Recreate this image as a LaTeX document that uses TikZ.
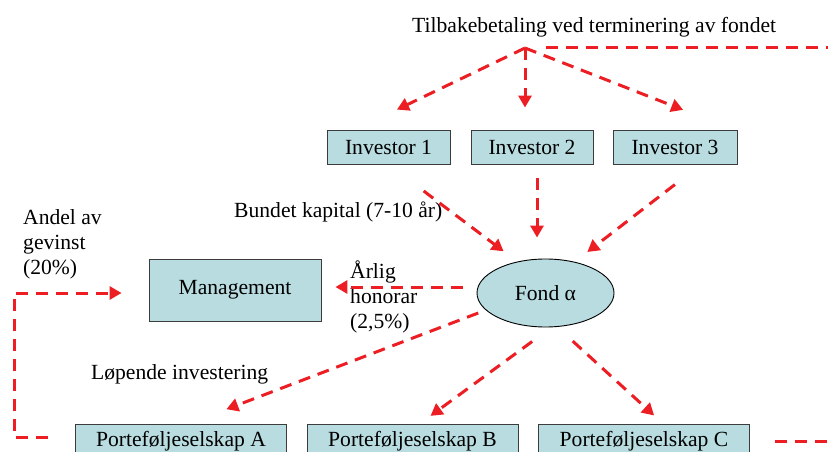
\documentclass[tikz,border=0pt]{standalone}
\usepackage{fontspec}
\setmainfont{Liberation Serif}
\usetikzlibrary{arrows.meta,shapes.geometric}

\definecolor{boxfill}{RGB}{184,220,224}
\definecolor{boxline}{RGB}{60,60,60}
\definecolor{flowred}{RGB}{236,30,36}

\begin{document}
\begin{tikzpicture}[x=1pt,y=-1pt,
        every node/.style={font=\fontsize{21.6}{25}\selectfont},
        unit/.style={draw=boxline,line width=0.9pt,fill=boxfill,minimum height=34pt,inner sep=0pt},
        fund/.style={ellipse,draw=black,line width=0.9pt,fill=boxfill,minimum width=137pt,minimum height=68pt,inner sep=0pt},
        note/.style={inner sep=0pt,align=left},
        flowline/.style={draw=flowred,line width=3pt,dash pattern=on 12pt off 8pt},
        flow/.style={flowline,-{Triangle[length=12pt,width=13pt]}},
    ]
        \def\pw{211pt}                              % width of the portfolio boxes

        \clip (0,0) rectangle (828,452);

        % Investors on top
        \node[unit,minimum width=123pt] (inv1) at (388.5,147) {Investor 1};
        \node[unit,minimum width=122pt] (inv2) at (532,147) {Investor 2};
        \node[unit,minimum width=124pt] (inv3) at (675,147) {Investor 3};

        % Management and the fund
        \node[unit,minimum width=172pt,minimum height=62pt] (mgmt) at (235,290) {Management};
        \node[fund] (fond) at (545.5,293) {Fond α};

        % Portfolio companies at the bottom (cut off by the frame)
        \node[unit,minimum width=\pw] (pfA) at (181,441) {Porteføljeselskap A};
        \node[unit,minimum width=\pw] (pfB) at (412.5,441) {Porteføljeselskap B};
        \node[unit,minimum width=\pw] (pfC) at (644,441) {Porteføljeselskap C};

        % Labels
        \node[note,anchor=base west] (repay) at (412,33) {Tilbakebetaling ved terminering av fondet};
        \node[note,anchor=base west] (bound) at (234,217) {Bundet kapital (7-10 år)};
        \node[note,anchor=base west] (running) at (91,379) {Løpende investering};
        \node[note,anchor=north west] (share) at (23,209) {Andel av\\gevinst\\(20\%)};
        \node[note,anchor=north west] (fee) at (350,261) {Årlig\\honorar\\(2,5\%)};

        % Repayment: from the last company round the frame back to the top
        \coordinate (apex) at (525,48);
        \draw[flowline,shorten <=25pt,shorten >=15pt] (pfC.east) -- ++(100,0) |- (apex);
        \draw[flow,shorten >=46pt] (apex) -- ([xshift=-33pt]inv1.north);
        \draw[flow,shorten >=22pt] (apex) -- (apex |- inv2.north);
        \draw[flow,shorten >=54pt] (apex) -- ([xshift=-4pt]inv3.north east);

        % Committed capital into the fund
        \draw[flow,shorten <=44pt,shorten >=17pt] (inv1.south) -- (fond.132);
        \draw[flow,shorten <=14pt,shorten >=21pt] ([xshift=5pt]inv2.south) -- ([xshift=5pt]inv2.south |- fond.north);
        \draw[flow,shorten <=33pt,shorten >=16pt] ([xshift=26pt]inv3.south) -- (fond.47);

        % Yearly fee to the management
        \draw[flow,shorten <=14pt,shorten >=14pt] ([yshift=3pt]mgmt.east -| fond.west) -- ([yshift=3pt]mgmt.east);

        % Investments into the companies
        \draw[flow,shorten <=8pt,shorten >=40pt] (fond.196) -- ([xshift=8pt]pfA.north);
        \draw[flow,shorten <=24pt,shorten >=13pt] (fond.280) -- ([xshift=7.5pt]pfB.north);
        \draw[flow,shorten <=21pt,shorten >=12pt] (fond.289) -- ([xshift=19pt]pfC.north);

        % Share of the profit back to the management
        \draw[flow,shorten <=27pt,shorten >=27pt] ([yshift=4pt]pfA.west) -- ++(-61,0) |- ([yshift=-3pt]mgmt.west);
\end{tikzpicture}
\end{document}
